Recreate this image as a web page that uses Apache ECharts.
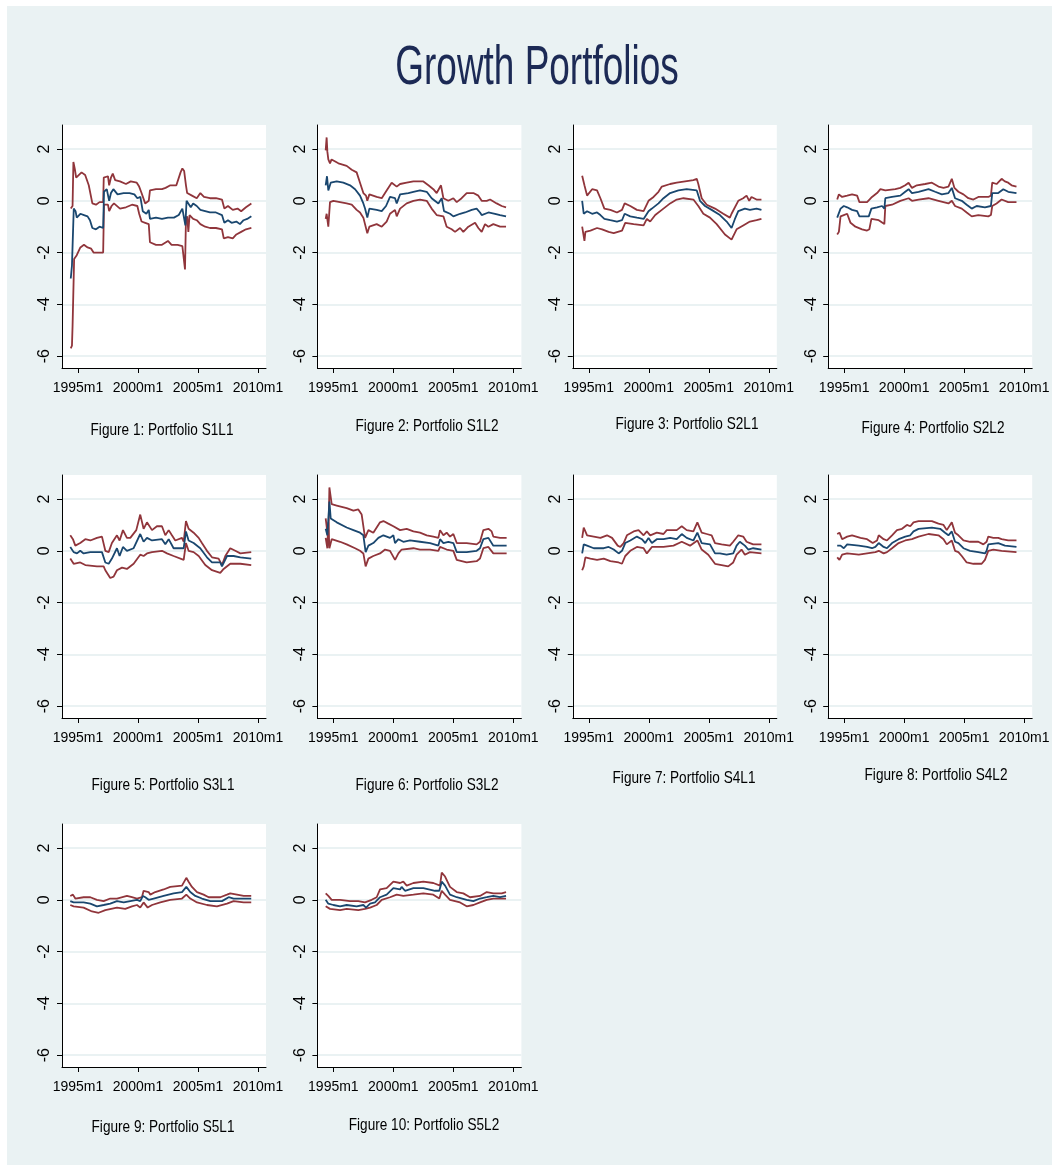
<!DOCTYPE html>
<html><head><meta charset="utf-8">
<script src="https://cdn.jsdelivr.net/npm/echarts@6/dist/echarts.min.js"></script>
<style>
html,body{margin:0;padding:0;background:#fff;width:1058px;height:1171px;overflow:hidden}
#bg{position:absolute;left:7px;top:6px;width:1045px;height:1159px;background:#eaf2f3}
#c{position:absolute;left:0;top:0;width:1058px;height:1171px}
</style></head><body>
<div id="bg"></div><div id="c"></div>
<script>
const mainTitle = 'Growth Portfolios';
const xTicks = [1995, 2000, 2005, 2010];
const yTicks = [-6, -4, -2, 0, 2];
const captions = ['Figure 1: Portfolio S1L1','Figure 2: Portfolio S1L2','Figure 3: Portfolio S2L1','Figure 4: Portfolio S2L2','Figure 5: Portfolio S3L1','Figure 6: Portfolio S3L2','Figure 7: Portfolio S4L1','Figure 8: Portfolio S4L2','Figure 9: Portfolio S5L1','Figure 10: Portfolio S5L2'];

// [decimal year, value]
const up1 = [[1994.4,-0.3],[1994.55,-0.2],[1994.62,1.5],[1994.75,1.2],[1994.85,0.9],[1995.0,0.85],[1995.3,1.1],[1995.6,1.0],[1995.9,0.6],[1996.0,0.55],[1996.2,-0.1],[1996.5,-0.15],[1996.8,-0.05],[1997.1,-0.05],[1997.15,0.9],[1997.5,0.95],[1997.6,0.6],[1997.75,0.9],[1997.9,1.05],[1998.1,0.8],[1998.5,0.75],[1999.0,0.65],[1999.4,0.75],[1999.9,0.7],[2000.1,0.55],[2000.3,0.3],[2000.6,-0.1],[2000.9,0.0],[2001.0,0.4],[2001.5,0.45],[2002.0,0.45],[2002.3,0.5],[2002.7,0.6],[2003.2,0.6],[2003.35,0.65],[2003.55,1.1],[2003.7,1.25],[2003.85,1.15],[2004.0,0.6],[2004.1,0.3],[2004.5,0.2],[2004.9,0.1],[2005.2,0.3],[2005.5,0.15],[2006.0,0.1],[2006.5,0.1],[2007.0,0.05],[2007.2,-0.3],[2007.5,-0.2],[2007.9,-0.35],[2008.3,-0.3],[2008.6,-0.4],[2009.0,-0.25],[2009.45,-0.1]];
const mid1 = [[1994.4,-3.0],[1994.5,-2.5],[1994.6,-2.5],[1994.65,-0.3],[1994.8,-0.4],[1994.9,-0.65],[1995.2,-0.5],[1995.5,-0.55],[1995.8,-0.6],[1996.0,-0.75],[1996.2,-1.05],[1996.5,-1.1],[1996.8,-1.0],[1997.1,-1.05],[1997.17,0.35],[1997.4,0.45],[1997.6,0.0],[1997.75,0.3],[1997.95,0.45],[1998.3,0.25],[1998.8,0.3],[1999.3,0.3],[1999.7,0.25],[1999.95,0.1],[2000.2,0.15],[2000.4,-0.4],[2000.7,-0.5],[2000.9,-0.35],[2001.0,-0.7],[2001.5,-0.65],[2002.0,-0.7],[2002.5,-0.65],[2003.0,-0.65],[2003.4,-0.55],[2003.7,-0.3],[2003.85,-0.25],[2003.95,-0.95],[2004.05,0.0],[2004.2,-0.05],[2004.4,-0.25],[2004.6,-0.1],[2004.9,-0.2],[2005.2,-0.35],[2005.6,-0.4],[2006.0,-0.45],[2006.5,-0.45],[2007.0,-0.55],[2007.2,-0.85],[2007.5,-0.75],[2007.8,-0.85],[2008.2,-0.8],[2008.5,-0.9],[2008.8,-0.75],[2009.1,-0.7],[2009.45,-0.6]];
const lo1 = [[1994.4,-5.7],[1994.5,-5.6],[1994.55,-4.85],[1994.62,-4.85],[1994.68,-2.25],[1994.9,-2.1],[1995.2,-1.8],[1995.5,-1.7],[1995.8,-1.8],[1996.1,-1.85],[1996.3,-2.0],[1996.7,-2.0],[1997.1,-2.0],[1997.17,-0.15],[1997.5,-0.15],[1997.6,-0.4],[1997.8,-0.2],[1998.0,-0.1],[1998.5,-0.3],[1999.0,-0.25],[1999.5,-0.15],[1999.95,-0.2],[2000.1,-0.5],[2000.3,-0.8],[2000.6,-0.85],[2000.9,-0.9],[2001.0,-1.6],[2001.5,-1.7],[2002.0,-1.7],[2002.5,-1.55],[2002.8,-1.7],[2003.3,-1.7],[2003.7,-1.75],[2003.85,-1.8],[2003.92,-2.65],[2004.0,-0.7],[2004.1,-0.6],[2004.2,-1.2],[2004.3,-0.55],[2004.6,-0.7],[2004.9,-0.75],[2005.2,-0.9],[2005.6,-1.0],[2006.0,-1.05],[2006.5,-1.05],[2007.0,-1.1],[2007.15,-1.45],[2007.5,-1.4],[2007.9,-1.45],[2008.2,-1.3],[2008.6,-1.2],[2009.0,-1.1],[2009.45,-1.05]];

const up2 = [[1994.36,1.95],[1994.44,2.45],[1994.5,1.9],[1994.58,1.6],[1994.72,1.45],[1994.85,1.6],[1995.0,1.6],[1995.42,1.45],[1996.11,1.35],[1996.53,1.2],[1996.94,1.1],[1997.22,0.7],[1997.5,0.3],[1997.72,0.2],[1997.83,0.0],[1998.0,0.25],[1998.61,0.15],[1999.03,0.1],[1999.44,0.4],[1999.86,0.7],[2000.28,0.55],[2000.56,0.65],[2001.11,0.7],[2001.67,0.75],[2002.5,0.75],[2002.92,0.6],[2003.33,0.45],[2003.61,0.3],[2003.97,0.6],[2004.17,0.1],[2004.58,0.0],[2005.0,0.1],[2005.28,-0.05],[2005.69,0.1],[2006.11,0.3],[2006.67,0.3],[2007.08,0.2],[2007.36,0.0],[2007.78,0.0],[2008.06,0.05],[2008.61,-0.1],[2009.03,-0.2],[2009.39,-0.25]];
const mid2 = [[1994.36,0.6],[1994.47,0.95],[1994.58,0.4],[1994.78,0.7],[1995.28,0.75],[1995.83,0.7],[1996.39,0.6],[1996.81,0.45],[1997.22,0.2],[1997.5,-0.1],[1997.64,-0.3],[1997.83,-0.65],[1998.0,-0.3],[1998.61,-0.35],[1999.03,-0.4],[1999.39,-0.2],[1999.72,0.15],[2000.14,0.1],[2000.28,-0.1],[2000.56,0.25],[2001.25,0.3],[2001.67,0.35],[2002.22,0.4],[2002.78,0.35],[2003.19,0.1],[2003.75,-0.1],[2004.03,0.1],[2004.22,-0.4],[2004.72,-0.5],[2005.0,-0.6],[2005.56,-0.5],[2005.97,-0.45],[2006.53,-0.35],[2006.94,-0.3],[2007.22,-0.45],[2007.36,-0.55],[2007.92,-0.45],[2008.47,-0.5],[2008.89,-0.55],[2009.39,-0.6]];
const lo2 = [[1994.36,-0.7],[1994.44,-0.5],[1994.58,-1.0],[1994.72,-0.05],[1995.0,0.0],[1995.56,-0.05],[1996.11,-0.1],[1996.53,-0.15],[1996.94,-0.35],[1997.22,-0.45],[1997.5,-0.65],[1997.83,-1.25],[1998.0,-1.0],[1998.61,-0.9],[1999.03,-1.0],[1999.44,-0.8],[1999.72,-0.5],[2000.14,-0.35],[2000.28,-0.6],[2000.56,-0.3],[2001.11,-0.1],[2001.67,0.0],[2002.22,0.05],[2002.78,0.0],[2003.19,-0.3],[2003.61,-0.55],[2004.17,-0.6],[2004.44,-1.0],[2004.86,-1.1],[2005.14,-1.2],[2005.56,-1.05],[2005.83,-1.2],[2006.25,-1.0],[2006.81,-0.85],[2007.08,-1.05],[2007.36,-1.2],[2007.64,-0.9],[2007.92,-1.0],[2008.33,-0.9],[2008.89,-1.0],[2009.39,-1.0]];

const up3 = [[1994.45,0.97],[1994.64,0.6],[1994.86,0.2],[1995.28,0.45],[1995.69,0.4],[1995.97,0.1],[1996.3,-0.3],[1996.8,-0.35],[1997.35,-0.45],[1997.77,-0.35],[1997.99,-0.1],[1998.46,-0.2],[1999.01,-0.35],[1999.57,-0.4],[1999.98,0.0],[2000.4,0.15],[2000.81,0.35],[2001.09,0.55],[2001.78,0.65],[2002.33,0.7],[2003.03,0.75],[2003.72,0.8],[2004.0,0.85],[2004.13,0.65],[2004.41,0.1],[2004.83,-0.15],[2005.52,-0.3],[2006.21,-0.5],[2006.76,-0.65],[2006.9,-0.5],[2007.46,0.0],[2007.87,0.1],[2008.15,0.2],[2008.37,0.0],[2008.56,0.15],[2008.98,0.05],[2009.39,0.05]];
const mid3 = [[1994.45,0.0],[1994.58,-0.5],[1994.86,-0.4],[1995.28,-0.5],[1995.69,-0.45],[1995.97,-0.55],[1996.3,-0.7],[1996.8,-0.75],[1997.35,-0.8],[1997.77,-0.75],[1997.99,-0.5],[1998.46,-0.6],[1999.01,-0.65],[1999.57,-0.7],[1999.98,-0.4],[2000.26,-0.3],[2000.81,-0.1],[2001.23,0.1],[2001.78,0.3],[2002.47,0.4],[2003.16,0.45],[2004.0,0.4],[2004.27,0.0],[2004.69,-0.2],[2005.24,-0.35],[2005.93,-0.55],[2006.49,-0.8],[2006.9,-1.05],[2007.18,-0.7],[2007.46,-0.4],[2008.01,-0.3],[2008.43,-0.35],[2008.98,-0.3],[2009.39,-0.35]];
const lo3 = [[1994.45,-1.0],[1994.64,-1.55],[1994.72,-1.2],[1995.14,-1.15],[1995.69,-1.05],[1996.11,-1.1],[1996.66,-1.2],[1997.08,-1.25],[1997.77,-1.15],[1998.04,-0.85],[1998.74,-0.9],[1999.57,-0.95],[1999.84,-0.7],[2000.12,-0.8],[2000.54,-0.55],[2001.09,-0.35],[2001.78,-0.1],[2002.33,0.05],[2002.89,0.1],[2003.72,0.05],[2004.13,-0.2],[2004.55,-0.5],[2005.1,-0.65],[2005.66,-0.9],[2006.35,-1.3],[2006.9,-1.5],[2007.32,-1.1],[2007.87,-0.95],[2008.43,-0.8],[2008.98,-0.75],[2009.39,-0.7]];

const up4 = [[1994.42,0.05],[1994.56,0.25],[1994.83,0.15],[1995.25,0.2],[1995.66,0.25],[1996.08,0.2],[1996.27,-0.05],[1996.91,-0.05],[1997.32,0.15],[1997.74,0.3],[1998.02,0.45],[1998.43,0.4],[1999.26,0.45],[1999.68,0.5],[2000.09,0.6],[2000.37,0.7],[2000.65,0.5],[2001.06,0.6],[2001.75,0.65],[2002.31,0.7],[2002.86,0.55],[2003.28,0.5],[2003.69,0.55],[2003.97,0.85],[2004.19,0.5],[2004.52,0.35],[2004.94,0.25],[2005.35,0.1],[2005.77,0.05],[2006.18,0.15],[2007.01,0.15],[2007.23,0.2],[2007.34,0.7],[2007.7,0.65],[2008.12,0.85],[2008.39,0.75],[2008.67,0.7],[2008.95,0.6],[2009.36,0.55]];
const mid4 = [[1994.42,-0.65],[1994.7,-0.3],[1994.97,-0.2],[1995.25,-0.25],[1995.66,-0.35],[1996.08,-0.4],[1996.27,-0.6],[1997.05,-0.6],[1997.27,-0.3],[1997.74,-0.25],[1998.16,-0.2],[1998.35,-0.3],[1998.43,0.1],[1998.99,0.15],[1999.68,0.2],[2000.09,0.35],[2000.37,0.45],[2000.65,0.3],[2001.2,0.35],[2002.03,0.45],[2002.58,0.35],[2003.14,0.25],[2003.69,0.3],[2003.97,0.5],[2004.24,0.1],[2004.8,0.0],[2005.21,-0.15],[2005.63,-0.3],[2006.04,-0.2],[2006.73,-0.25],[2007.23,-0.2],[2007.34,0.3],[2007.84,0.3],[2008.26,0.45],[2008.67,0.35],[2009.36,0.3]];
const lo4 = [[1994.42,-1.3],[1994.56,-1.2],[1994.7,-0.6],[1994.97,-0.55],[1995.25,-0.5],[1995.53,-0.85],[1995.94,-1.0],[1996.49,-1.1],[1996.91,-1.15],[1997.1,-1.1],[1997.27,-0.7],[1997.88,-0.75],[1998.35,-0.9],[1998.43,-0.2],[1998.99,-0.15],[1999.68,0.0],[2000.37,0.1],[2000.65,0.0],[2001.2,0.05],[2002.03,0.1],[2002.86,0.0],[2003.69,-0.1],[2003.97,0.0],[2004.24,-0.2],[2004.8,-0.3],[2005.21,-0.45],[2005.63,-0.6],[2006.18,-0.55],[2007.01,-0.6],[2007.23,-0.55],[2007.34,-0.2],[2007.7,-0.1],[2008.12,0.05],[2008.67,-0.05],[2009.36,-0.05]];

const up5 = [[1994.36,0.6],[1994.58,0.45],[1994.78,0.2],[1995.19,0.3],[1995.61,0.45],[1996.03,0.4],[1996.58,0.5],[1997.0,0.55],[1997.14,0.5],[1997.28,0.0],[1997.56,-0.05],[1997.83,0.3],[1998.25,0.6],[1998.47,0.4],[1998.75,0.8],[1999.08,0.5],[1999.36,0.5],[1999.86,0.8],[2000.19,1.4],[2000.47,0.85],[2000.75,1.1],[2001.17,0.8],[2001.58,0.95],[2002.0,0.95],[2002.28,0.6],[2002.56,0.8],[2002.83,0.6],[2003.11,0.4],[2003.67,0.5],[2003.81,0.35],[2004.0,1.15],[2004.22,0.85],[2004.64,0.7],[2005.06,0.5],[2005.33,0.3],[2005.75,0.0],[2006.17,-0.25],[2006.72,-0.3],[2007.0,-0.55],[2007.28,-0.2],[2007.69,0.1],[2008.11,0.0],[2008.53,-0.1],[2009.44,-0.05]];
const mid5 = [[1994.36,0.15],[1994.64,-0.05],[1994.92,-0.1],[1995.19,0.0],[1995.47,-0.1],[1996.03,-0.05],[1997.0,-0.05],[1997.28,-0.45],[1997.56,-0.5],[1997.83,-0.3],[1998.25,0.1],[1998.47,-0.2],[1998.75,0.15],[1999.08,0.0],[1999.64,0.1],[2000.19,0.65],[2000.47,0.35],[2000.75,0.5],[2001.17,0.4],[2002.0,0.45],[2002.28,0.25],[2002.56,0.45],[2002.97,0.1],[2003.81,0.1],[2004.0,0.75],[2004.22,0.4],[2004.64,0.3],[2005.19,0.1],[2005.75,-0.25],[2006.17,-0.45],[2006.86,-0.45],[2007.0,-0.6],[2007.42,-0.2],[2007.97,-0.2],[2008.53,-0.25],[2009.44,-0.3]];
const lo5 = [[1994.36,-0.3],[1994.64,-0.5],[1995.19,-0.45],[1995.61,-0.55],[1996.58,-0.6],[1997.14,-0.6],[1997.28,-0.75],[1997.69,-1.05],[1997.97,-1.0],[1998.25,-0.75],[1998.67,-0.65],[1999.08,-0.7],[1999.64,-0.5],[2000.19,-0.15],[2000.47,-0.2],[2000.75,-0.1],[2001.17,-0.05],[2002.0,0.0],[2002.42,-0.1],[2002.97,-0.2],[2003.81,-0.35],[2004.0,0.3],[2004.22,0.0],[2004.64,-0.05],[2005.06,-0.2],[2005.61,-0.55],[2006.17,-0.75],[2006.86,-0.85],[2007.14,-0.7],[2007.69,-0.5],[2008.53,-0.5],[2009.44,-0.55]];

const up6 = [[1994.36,1.25],[1994.44,1.3],[1994.58,0.4],[1994.67,2.45],[1994.86,1.8],[1995.28,1.75],[1996.11,1.65],[1996.67,1.55],[1997.08,1.6],[1997.36,1.4],[1997.5,1.35],[1997.64,0.5],[1997.92,0.8],[1998.33,0.7],[1998.61,0.9],[1998.89,1.1],[1999.17,1.15],[1999.58,1.05],[2000.0,0.95],[2000.14,1.0],[2000.56,0.8],[2001.11,0.85],[2001.67,0.75],[2002.22,0.7],[2002.78,0.6],[2003.33,0.55],[2003.75,0.5],[2003.89,0.8],[2004.17,0.6],[2004.44,0.7],[2004.72,0.55],[2005.0,0.65],[2005.28,0.3],[2006.11,0.3],[2006.94,0.25],[2007.22,0.35],[2007.5,0.8],[2007.92,0.85],[2008.19,0.75],[2008.33,0.55],[2008.89,0.5],[2009.44,0.5]];
const mid6 = [[1994.36,0.85],[1994.5,0.6],[1994.58,1.2],[1994.67,1.9],[1994.78,1.25],[1995.28,1.1],[1996.11,0.9],[1996.67,0.8],[1997.22,0.7],[1997.5,0.6],[1997.69,-0.05],[1997.92,0.2],[1998.33,0.3],[1998.75,0.5],[1999.17,0.6],[1999.72,0.5],[2000.0,0.6],[2000.14,0.3],[2000.42,0.45],[2000.83,0.35],[2001.39,0.4],[2002.22,0.35],[2003.06,0.3],[2003.75,0.2],[2003.89,0.45],[2004.17,0.3],[2004.58,0.35],[2005.0,0.3],[2005.28,-0.05],[2006.11,-0.05],[2006.94,0.0],[2007.22,0.1],[2007.5,0.45],[2007.92,0.5],[2008.33,0.2],[2009.44,0.2]];
const lo6 = [[1994.36,0.5],[1994.5,0.1],[1994.58,1.1],[1994.67,0.1],[1994.86,0.45],[1995.56,0.35],[1996.11,0.25],[1996.81,0.1],[1997.22,0.0],[1997.5,-0.1],[1997.69,-0.6],[1997.92,-0.3],[1998.33,-0.2],[1998.89,-0.1],[1999.31,0.05],[1999.72,0.0],[2000.14,-0.35],[2000.42,-0.1],[2000.69,0.05],[2001.67,0.1],[2002.22,0.05],[2003.06,0.05],[2003.75,0.0],[2003.89,0.15],[2004.44,0.05],[2005.0,0.0],[2005.28,-0.35],[2006.11,-0.45],[2006.94,-0.4],[2007.22,-0.3],[2007.5,0.1],[2007.92,0.15],[2008.33,-0.1],[2009.44,-0.1]];

const up7 = [[1994.45,0.5],[1994.58,0.9],[1994.86,0.6],[1995.42,0.55],[1995.97,0.5],[1996.52,0.6],[1996.94,0.5],[1997.41,0.2],[1997.63,0.15],[1997.91,0.3],[1998.18,0.6],[1998.74,0.75],[1999.15,0.8],[1999.57,0.6],[1999.84,0.75],[2000.12,0.6],[2000.67,0.7],[2001.23,0.65],[2001.5,0.8],[2002.33,0.8],[2002.75,0.95],[2003.16,0.8],[2003.72,0.75],[2004.05,1.1],[2004.41,0.7],[2004.83,0.65],[2005.24,0.6],[2005.52,0.3],[2006.07,0.25],[2006.76,0.2],[2007.04,0.35],[2007.46,0.6],[2007.87,0.55],[2008.15,0.35],[2008.43,0.3],[2008.7,0.25],[2009.39,0.25]];
const mid7 = [[1994.45,-0.1],[1994.58,0.25],[1994.86,0.2],[1995.42,0.1],[1996.25,0.1],[1996.66,0.15],[1997.08,0.05],[1997.49,-0.1],[1997.77,0.0],[1998.04,0.3],[1998.46,0.4],[1999.01,0.55],[1999.43,0.45],[1999.71,0.3],[1999.98,0.5],[2000.26,0.3],[2000.67,0.45],[2001.23,0.45],[2001.78,0.5],[2002.33,0.45],[2002.75,0.65],[2003.16,0.5],[2003.72,0.4],[2004.05,0.7],[2004.41,0.3],[2005.1,0.25],[2005.52,-0.1],[2005.93,-0.1],[2006.49,-0.15],[2007.04,-0.1],[2007.32,0.2],[2007.59,0.35],[2008.01,0.2],[2008.29,0.05],[2008.7,0.1],[2009.39,0.05]];
const lo7 = [[1994.45,-0.75],[1994.58,-0.6],[1994.72,-0.25],[1995.14,-0.3],[1995.69,-0.35],[1996.25,-0.3],[1996.8,-0.4],[1997.49,-0.45],[1997.77,-0.5],[1998.04,-0.2],[1998.46,0.0],[1999.01,0.15],[1999.57,0.1],[1999.84,-0.1],[2000.26,0.15],[2001.23,0.15],[2002.06,0.2],[2002.75,0.35],[2003.44,0.2],[2004.05,0.4],[2004.41,0.05],[2004.96,-0.15],[2005.52,-0.5],[2006.07,-0.55],[2006.62,-0.6],[2007.04,-0.45],[2007.32,-0.15],[2007.73,0.05],[2008.01,-0.15],[2008.43,-0.05],[2009.39,-0.1]];

const up8 = [[1994.42,0.65],[1994.61,0.7],[1994.83,0.45],[1995.25,0.55],[1995.66,0.6],[1996.36,0.5],[1996.91,0.45],[1997.38,0.3],[1997.74,0.4],[1997.88,0.6],[1998.29,0.45],[1998.57,0.4],[1998.99,0.6],[1999.4,0.8],[1999.82,0.85],[2000.23,1.0],[2000.51,0.95],[2000.78,1.1],[2000.92,1.05],[2001.2,1.15],[2002.31,1.15],[2002.86,1.05],[2003.28,1.0],[2003.55,0.8],[2003.97,1.1],[2004.24,0.7],[2004.52,0.6],[2004.94,0.4],[2005.49,0.35],[2006.18,0.35],[2006.6,0.25],[2006.87,0.35],[2007.01,0.55],[2007.43,0.5],[2007.84,0.5],[2008.12,0.45],[2008.67,0.4],[2009.36,0.4]];
const mid8 = [[1994.42,0.2],[1994.7,0.2],[1994.97,0.1],[1995.25,0.25],[1996.22,0.2],[1996.91,0.15],[1997.32,0.1],[1997.6,0.15],[1997.88,0.3],[1998.29,0.15],[1998.57,0.1],[1998.99,0.3],[1999.54,0.45],[2000.09,0.55],[2000.51,0.6],[2000.78,0.75],[2000.92,0.7],[2001.2,0.85],[2002.31,0.9],[2003.0,0.85],[2003.41,0.7],[2003.69,0.6],[2003.97,0.75],[2004.24,0.35],[2004.52,0.3],[2004.94,0.1],[2005.49,0.0],[2006.18,-0.05],[2006.73,-0.1],[2006.87,0.0],[2007.01,0.25],[2007.84,0.3],[2008.4,0.2],[2009.36,0.15]];
const lo8 = [[1994.42,-0.25],[1994.61,-0.35],[1994.83,-0.15],[1995.25,-0.1],[1996.22,-0.15],[1996.91,-0.1],[1997.6,-0.05],[1997.88,0.0],[1998.29,-0.1],[1998.57,-0.05],[1998.99,0.1],[1999.54,0.3],[2000.09,0.4],[2000.65,0.45],[2001.2,0.55],[2002.03,0.65],[2002.86,0.6],[2003.28,0.45],[2003.55,0.25],[2003.97,0.4],[2004.24,0.0],[2004.52,-0.05],[2004.8,-0.2],[2005.21,-0.45],[2005.77,-0.5],[2006.46,-0.5],[2006.73,-0.35],[2007.01,0.0],[2007.43,0.05],[2008.12,0.0],[2009.36,-0.05]];

const up9 = [[1994.36,0.15],[1994.58,0.2],[1994.78,0.05],[1995.47,0.1],[1996.03,0.1],[1996.58,0.0],[1997.14,-0.05],[1997.69,0.05],[1998.25,0.05],[1999.08,0.15],[1999.5,0.1],[1999.92,0.05],[2000.33,0.1],[2000.47,0.35],[2000.89,0.3],[2001.03,0.2],[2001.44,0.3],[2002.14,0.4],[2002.69,0.5],[2003.67,0.55],[2003.81,0.6],[2004.03,0.85],[2004.22,0.7],[2004.5,0.5],[2004.92,0.3],[2005.47,0.2],[2005.89,0.1],[2006.86,0.1],[2007.42,0.2],[2007.69,0.25],[2008.25,0.2],[2008.81,0.15],[2009.44,0.15]];
const mid9 = [[1994.36,-0.05],[1994.64,-0.1],[1995.47,-0.1],[1996.03,-0.15],[1996.58,-0.25],[1997.14,-0.2],[1997.69,-0.15],[1998.25,-0.05],[1998.81,-0.1],[1999.36,-0.05],[1999.92,0.0],[2000.19,-0.05],[2000.42,0.15],[2000.61,0.1],[2000.89,0.0],[2001.31,0.05],[2002.14,0.15],[2002.97,0.25],[2003.67,0.3],[2004.03,0.5],[2004.36,0.3],[2004.78,0.15],[2005.33,0.05],[2006.03,-0.05],[2007.0,-0.05],[2007.56,0.1],[2007.97,0.05],[2009.44,0.05]];
const lo9 = [[1994.36,-0.2],[1994.64,-0.25],[1995.47,-0.3],[1996.17,-0.45],[1996.72,-0.5],[1997.28,-0.4],[1998.25,-0.3],[1998.94,-0.35],[1999.5,-0.25],[1999.92,-0.2],[2000.19,-0.3],[2000.47,-0.1],[2000.81,-0.3],[2001.17,-0.2],[2001.86,-0.1],[2002.69,0.0],[2003.67,0.05],[2004.03,0.2],[2004.36,0.05],[2004.92,-0.1],[2005.75,-0.2],[2006.58,-0.25],[2007.42,-0.15],[2007.97,-0.05],[2008.81,-0.1],[2009.44,-0.1]];

const up10 = [[1994.36,0.25],[1994.58,0.15],[1994.86,0.0],[1995.56,0.0],[1996.39,-0.05],[1997.08,-0.05],[1997.64,-0.1],[1998.19,0.0],[1998.61,0.1],[1998.89,0.4],[1999.44,0.45],[2000.0,0.7],[2000.56,0.65],[2000.83,0.7],[2001.11,0.55],[2001.67,0.65],[2002.5,0.7],[2003.33,0.65],[2003.89,0.55],[2004.03,1.05],[2004.31,0.9],[2004.72,0.5],[2005.28,0.3],[2005.83,0.25],[2006.39,0.1],[2007.22,0.15],[2007.78,0.3],[2008.33,0.25],[2009.03,0.25],[2009.39,0.3]];
const mid10 = [[1994.36,0.0],[1994.58,-0.15],[1995.0,-0.2],[1995.56,-0.25],[1996.11,-0.2],[1996.94,-0.25],[1997.5,-0.2],[1997.72,-0.3],[1998.06,-0.15],[1998.47,-0.1],[1998.89,0.1],[1999.44,0.2],[2000.0,0.45],[2000.56,0.4],[2000.69,0.5],[2000.97,0.35],[2001.67,0.45],[2002.5,0.45],[2003.47,0.35],[2003.83,0.35],[2004.03,0.7],[2004.31,0.55],[2004.72,0.2],[2005.28,0.1],[2006.11,0.0],[2006.67,-0.05],[2007.22,0.05],[2007.78,0.1],[2008.33,0.15],[2008.89,0.1],[2009.39,0.15]];
const lo10 = [[1994.36,-0.25],[1994.72,-0.35],[1995.56,-0.4],[1996.11,-0.35],[1997.08,-0.4],[1997.64,-0.35],[1998.06,-0.3],[1998.61,-0.2],[1999.03,0.0],[1999.72,0.1],[2000.28,0.2],[2000.83,0.15],[2001.67,0.2],[2002.5,0.25],[2003.33,0.2],[2003.83,0.05],[2004.03,0.35],[2004.31,0.2],[2004.72,0.0],[2005.56,-0.1],[2006.11,-0.25],[2006.67,-0.2],[2007.22,-0.1],[2007.78,0.0],[2008.33,0.05],[2009.39,0.05]];

const panels = [[up1,mid1,lo1],[up2,mid2,lo2],[up3,mid3,lo3],[up4,mid4,lo4],[up5,mid5,lo5],[up6,mid6,lo6],[up7,mid7,lo7],[up8,mid8,lo8],[up9,mid9,lo9],[up10,mid10,lo10]];

// layout (pixels)
const FONT = "'Liberation Sans',Arial,sans-serif";
const colLeft = [62, 317.4, 572.8, 828.2];
const rowTop = [125, 475, 824];
const plotW = 204, plotH = 243;
const capPos = [[162,430],[427,426],[687,424],[933,428],[163,785],[427,785],[684,778],[936,775],[163,1127],[424,1125]];
const RED = '#90353b', BLUE = '#1a476f', AX = '#000';

const grid = [], xAxis = [], yAxis = [], series = [];
const graphic = [{type: 'text', x: 537, y: 69, scaleX: 0.66, z: 10,
  style: {text: mainTitle, fontFamily: FONT, fontSize: 56, fill: '#1c2a55', align: 'center', verticalAlign: 'middle'}}];
panels.forEach((p, i) => {
  const r = Math.floor(i / 4), c = i % 4;
  grid.push({left: colLeft[c], top: rowTop[r], width: plotW, height: plotH, show: true, backgroundColor: '#fff', borderWidth: 0, containLabel: false});
  xAxis.push({type: 'value', gridIndex: i, min: 1993.67, max: 2010.67,
    axisLine: {show: true, onZero: false, lineStyle: {color: AX, width: 1}},
    axisTick: {show: true, length: 5, customValues: xTicks, lineStyle: {color: AX}},
    axisLabel: {customValues: xTicks, formatter: v => v + 'm1', margin: 13, color: '#000', fontFamily: FONT, fontSize: 14},
    splitLine: {show: false}});
  yAxis.push({type: 'value', gridIndex: i, min: -6.46, max: 2.93,
    axisLine: {show: true, onZero: false, lineStyle: {color: AX, width: 1}},
    axisTick: {show: true, length: 5, customValues: yTicks, lineStyle: {color: AX}},
    axisLabel: {customValues: yTicks, rotate: 90, margin: 9, color: '#000', fontFamily: FONT, fontSize: 16},
    splitLine: {show: true, lineStyle: {color: '#eaf2f3', width: 2}}});
  graphic.push({type: 'text', x: capPos[i][0], y: capPos[i][1], scaleX: 0.8, z: 10,
    style: {text: captions[i], fontFamily: FONT, fontSize: 17, fill: '#000', align: 'center', verticalAlign: 'middle'}});
  [[p[0], RED], [p[2], RED], [p[1], BLUE]].forEach(([d, col]) => {
    series.push({type: 'line', xAxisIndex: i, yAxisIndex: i, data: d, showSymbol: false, symbol: 'none',
      lineStyle: {color: col, width: 1.8}, itemStyle: {color: col}, silent: true, z: col === BLUE ? 3 : 2});
  });
});

const chart = echarts.init(document.getElementById('c'), null, {renderer: 'canvas'});
chart.setOption({animation: false, backgroundColor: 'transparent', graphic, grid, xAxis, yAxis, series});
</script>
</body></html>
